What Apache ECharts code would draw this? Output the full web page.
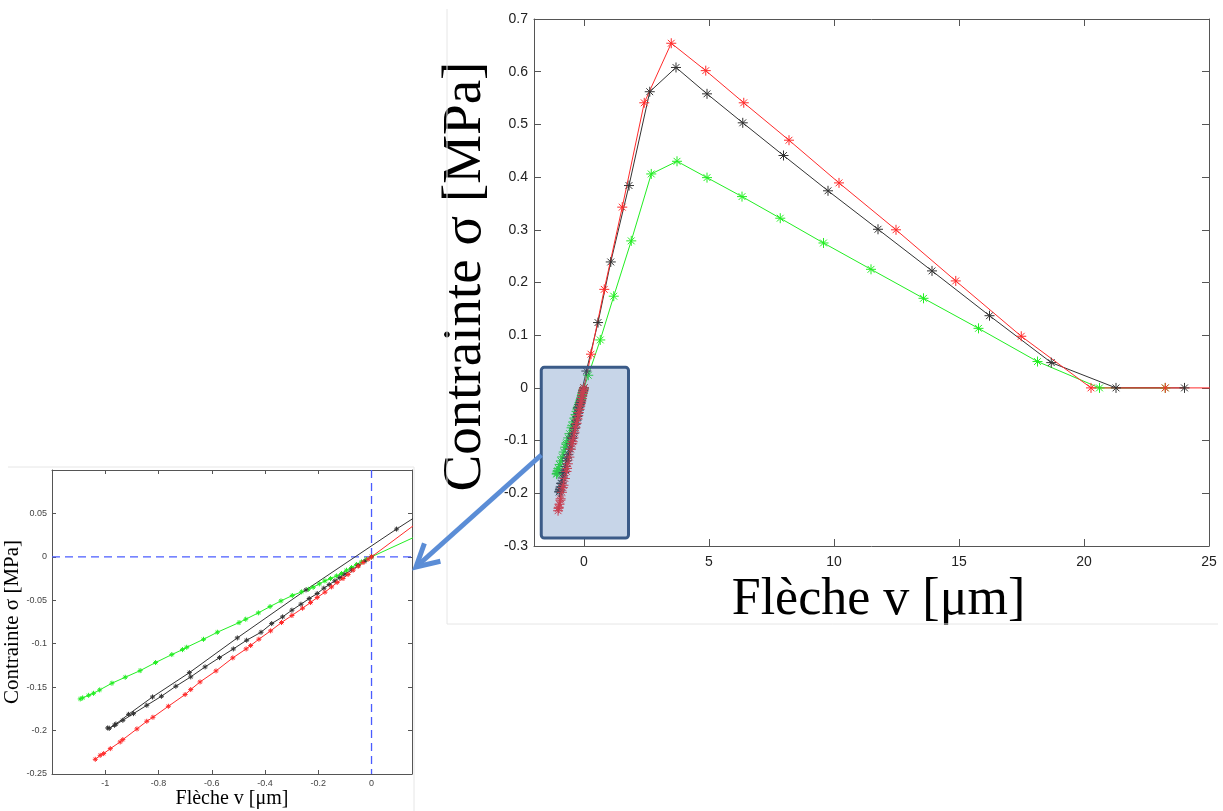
<!DOCTYPE html>
<html><head><meta charset="utf-8">
<script src="https://cdn.jsdelivr.net/npm/echarts@6/dist/echarts.min.js"></script>
<style>html,body{margin:0;padding:0;background:#fff}#c{width:1223px;height:811px}</style>
</head><body><div id="c"></div>
<script>
// ---- data (Flèche v [µm], Contrainte σ [MPa]) ----
const redX = [-1.0375,-1.019,-1.006,-0.981,-0.944,-0.934,-0.881,-0.844,-0.821,-0.763,-0.700,-0.679,-0.644,-0.584,-0.521,-0.471,-0.454,-0.423,-0.379,-0.338,-0.299,-0.259,-0.229,-0.204,-0.175,-0.150,-0.129,-0.107,-0.088,-0.069,-0.050,-0.032,-0.013,0,0.28,0.81,1.53,2.41,3.49,4.87,6.39,8.20,10.20,12.48,14.87,17.49,20.28,23.25,26];
const redY = [-0.2331,-0.2285,-0.2265,-0.2208,-0.2131,-0.2104,-0.1981,-0.1893,-0.1847,-0.172,-0.1585,-0.1528,-0.144,-0.1313,-0.1163,-0.106,-0.1021,-0.0948,-0.0852,-0.0756,-0.0675,-0.0591,-0.0526,-0.0468,-0.0407,-0.0346,-0.0295,-0.0249,-0.0203,-0.0153,-0.0107,-0.0065,-0.0027,0,0.064,0.187,0.343,0.541,0.654,0.602,0.541,0.470,0.389,0.300,0.203,0.098,0,0,0];

const blackX = [0,-0.025,-0.05,-0.075,-0.1,-0.119,-0.1375,-0.159,-0.179,-0.204,-0.234,-0.265,-0.299,-0.334,-0.375,-0.415,-0.469,-0.519,-0.571,-0.625,-0.679,-0.735,-0.789,-0.844,-0.894,-0.934,-0.965,-0.985,-0.991,-0.96,-0.9125,-0.8225,-0.684,-0.504,-0.246,0.094,0.56,1.07,1.80,2.63,3.68,4.92,6.35,7.98,9.76,11.76,13.92,16.22,18.69,21.28,24.02];
const blackY = [0,-0.005,-0.010,-0.015,-0.020,-0.0238,-0.0276,-0.0319,-0.0361,-0.0422,-0.048,-0.0545,-0.0614,-0.0691,-0.0768,-0.0868,-0.096,-0.106,-0.116,-0.1267,-0.1382,-0.149,-0.1605,-0.1709,-0.1805,-0.1882,-0.1939,-0.1974,-0.197,-0.1924,-0.1813,-0.1613,-0.1333,-0.0933,-0.038,0.032,0.124,0.239,0.384,0.562,0.608,0.558,0.503,0.441,0.374,0.301,0.222,0.137,0.048,0,0];

const greenX = [-1.094,-1.085,-1.0625,-1.044,-1.021,-0.975,-0.925,-0.869,-0.811,-0.75,-0.71,-0.694,-0.631,-0.579,-0.4975,-0.4725,-0.425,-0.381,-0.34,-0.2975,-0.2625,-0.2375,-0.219,-0.196,-0.175,-0.154,-0.131,-0.1125,-0.094,-0.075,-0.056,-0.0375,-0.019,0,0.17,0.65,1.19,1.89,2.69,3.72,4.92,6.32,7.85,9.58,11.48,13.58,15.78,18.14,20.62,23.25];
const greenY = [-0.1636,-0.1624,-0.1594,-0.1571,-0.1532,-0.1455,-0.1386,-0.131,-0.1217,-0.1125,-0.1068,-0.1041,-0.0949,-0.0868,-0.0757,-0.0718,-0.0645,-0.0572,-0.0507,-0.0445,-0.0403,-0.0373,-0.035,-0.0311,-0.0276,-0.025,-0.0219,-0.0192,-0.0154,-0.0123,-0.0088,-0.0058,-0.0027,0,0.024,0.091,0.174,0.279,0.406,0.430,0.399,0.363,0.322,0.275,0.225,0.170,0.113,0.050,0,0];

const xTitle = 'Flèche v [μm]';
const yTitle = 'Contrainte σ [MPa]';
const mainXRange = [-2, 25];
const mainYRange = [-0.3, 0.7];
const mainYStep = 0.1;
const insetXRange = [-1.2, 0.152];
const insetXStep = 0.2;
const insetYRange = [-0.25, 0.1];
const insetYStep = 0.05;
const zoomBoxX = [-1.71, 1.78];
const zoomBoxY = [-0.285, 0.039];

// ---- chart ----
const zip = (xs, ys) => xs.map((x, i) => [x, ys[i]]);
const star = 'path://M5,0L5,10M0,5L10,5M1.6,1.6L8.4,8.4M1.6,8.4L8.4,1.6';
const COL = { red: '#ff2a2a', black: '#333333', green: '#22ee22' };
const DASH = '#4a5cff';

function mk(color, xs, ys, axis, size, extra) {
  return Object.assign({
    type: 'line', xAxisIndex: axis, yAxisIndex: axis,
    data: zip(xs, ys), symbol: star, symbolSize: size, showAllSymbol: true,
    clip: true, silent: true, z: 3,
    lineStyle: { color: color, width: 1 },
    itemStyle: { color: color, borderColor: color, borderWidth: 1 }
  }, extra || {});
}

const serif = 'Liberation Serif';
const sans = 'Liberation Sans';

function xAx(grid, pos, range, step, opts) {
  const o = {
    gridIndex: grid, type: 'value', position: pos, min: range[0], max: range[1],
    axisLine: { show: true, onZero: false, lineStyle: { color: '#555', width: 1 } },
    axisTick: { show: true, inside: true, length: opts.tick, lineStyle: { color: '#555' } },
    splitLine: { show: false },
    axisLabel: { show: opts.label, showMinLabel: false, showMaxLabel: opts.showMax,
      fontFamily: sans, fontSize: opts.fs, color: opts.lc, margin: opts.margin,
      formatter: opts.fmt }
  };
  if (step) o.interval = step;
  if (opts.name) Object.assign(o, { name: opts.name, nameLocation: 'middle', nameGap: opts.gap,
    nameTextStyle: { fontFamily: serif, fontSize: opts.nfs, color: '#000', padding: opts.npad || 0 } });
  return o;
}
function yAx(grid, pos, range, step, opts) {
  const o = {
    gridIndex: grid, type: 'value', position: pos, min: range[0], max: range[1], interval: step,
    axisLine: { show: true, onZero: false, lineStyle: { color: '#555', width: 1 } },
    axisTick: { show: true, inside: true, length: opts.tick, lineStyle: { color: '#555' } },
    splitLine: { show: false },
    axisLabel: { show: opts.label, showMaxLabel: opts.showMax, fontFamily: sans, fontSize: opts.fs,
      color: opts.lc, margin: opts.margin }
  };
  if (opts.name) Object.assign(o, { name: opts.name, nameLocation: 'middle', nameGap: opts.gap, nameRotate: 90,
    nameTextStyle: { fontFamily: serif, fontSize: opts.nfs, color: '#000', padding: opts.npad || 0 } });
  return o;
}
const mult5 = v => (Math.abs(v % 5) < 1e-9 ? String(v) : '');

const chart = echarts.init(document.getElementById('c'), null, { renderer: 'canvas' });
chart.setOption({
  backgroundColor: '#fff',
  animation: false,
  grid: [
    { left: 534, top: 19, width: 675, height: 527 },
    { left: 52, top: 470, width: 360, height: 304 }
  ],
  xAxis: [
    xAx(0, 'bottom', mainXRange, null, { tick: 7, label: true, showMax: true, fs: 14, lc: '#222', margin: 9, fmt: mult5, name: xTitle, gap: 22, nfs: 52, npad: [0, 0, 0, 14] }),
    xAx(0, 'top', mainXRange, null, { tick: 7, label: false }),
    xAx(1, 'bottom', insetXRange, insetXStep, { tick: 4, label: true, showMax: false, fs: 9, lc: '#444', margin: 5, name: xTitle, gap: 10, nfs: 20 }),
    xAx(1, 'top', insetXRange, insetXStep, { tick: 4, label: false })
  ],
  yAxis: [
    yAx(0, 'left', mainYRange, mainYStep, { tick: 7, label: true, showMax: true, fs: 14, lc: '#222', margin: 6, name: yTitle, gap: 38, nfs: 55, npad: [0, 0, 0, 12] }),
    yAx(0, 'right', mainYRange, mainYStep, { tick: 7, label: false }),
    yAx(1, 'left', insetYRange, insetYStep, { tick: 4, label: true, showMax: false, fs: 9, lc: '#444', margin: 5, name: yTitle, gap: 23, nfs: 21 }),
    yAx(1, 'right', insetYRange, insetYStep, { tick: 4, label: false })
  ],
  series: [
    mk(COL.green, greenX, greenY, 0, 10),
    mk(COL.black, blackX, blackY, 0, 10),
    mk(COL.red, redX, redY, 0, 10),
    mk(COL.green, greenX, greenY, 2, 5),
    mk(COL.black, blackX, blackY, 2, 5),
    mk(COL.red, redX, redY, 2, 5)
  ]
});

// zero reference lines of the inset (dashed blue)
const fi = { xAxisIndex: 2, yAxisIndex: 2 };
const iA = chart.convertToPixel(fi, [insetXRange[0], 0]);
const iB = chart.convertToPixel(fi, [insetXRange[1], 0]);
const iC = chart.convertToPixel(fi, [0, insetYRange[0]]);
const iD = chart.convertToPixel(fi, [0, insetYRange[1]]);

const f = { xAxisIndex: 0, yAxisIndex: 0 };
const p0 = chart.convertToPixel(f, [zoomBoxX[0], zoomBoxY[1]]);
const p1 = chart.convertToPixel(f, [zoomBoxX[1], zoomBoxY[0]]);
const tip = [416, 567], start = [p0[0], 455];
const dx = tip[0] - start[0], dy = tip[1] - start[1], L = Math.hypot(dx, dy);
const ux = dx / L, uy = dy / L, hl = 22, hw = 12;
const bx = tip[0] - ux * hl, by = tip[1] - uy * hl;
const w1 = [bx - uy * hw, by + ux * hw], w2 = [bx + uy * hw, by - ux * hw];
const arrowCol = '#5b8dd6';
chart.setOption({
  graphic: [
    { type: 'line', shape: { x1: 447, y1: 9, x2: 447, y2: 624 }, style: { stroke: '#e6e6e6', lineWidth: 1 }, z: 1 },
    { type: 'line', shape: { x1: 447, y1: 624, x2: 1218, y2: 624 }, style: { stroke: '#e6e6e6', lineWidth: 1 }, z: 1 },
    { type: 'line', shape: { x1: 8, y1: 467, x2: 414, y2: 467 }, style: { stroke: '#e6e6e6', lineWidth: 1 }, z: 1 },
    { type: 'line', shape: { x1: 414, y1: 467, x2: 414, y2: 811 }, style: { stroke: '#e6e6e6', lineWidth: 1 }, z: 1 },
    { type: 'line', shape: { x1: iA[0], y1: iA[1], x2: iB[0], y2: iB[1] }, style: { stroke: DASH, lineWidth: 1.3, lineDash: [8, 5] }, z: 2 },
    { type: 'line', shape: { x1: iD[0], y1: iD[1], x2: iC[0], y2: iC[1] }, style: { stroke: DASH, lineWidth: 1.3, lineDash: [8, 5] }, z: 2 },
    { type: 'rect', shape: { x: p0[0], y: p0[1], width: p1[0] - p0[0], height: p1[1] - p0[1], r: 3 },
      style: { fill: 'rgba(70,115,180,0.3)', stroke: '#3b5b88', lineWidth: 3 }, z: 100 },
    { type: 'line', shape: { x1: start[0], y1: start[1], x2: tip[0] - ux * 3, y2: tip[1] - uy * 3 },
      style: { stroke: arrowCol, lineWidth: 5 }, z: 101 },
    { type: 'polyline', shape: { points: [w1, tip, w2] },
      style: { stroke: arrowCol, lineWidth: 5, fill: null, lineJoin: 'miter' }, z: 101 }
  ]
});
</script>
</body></html>
